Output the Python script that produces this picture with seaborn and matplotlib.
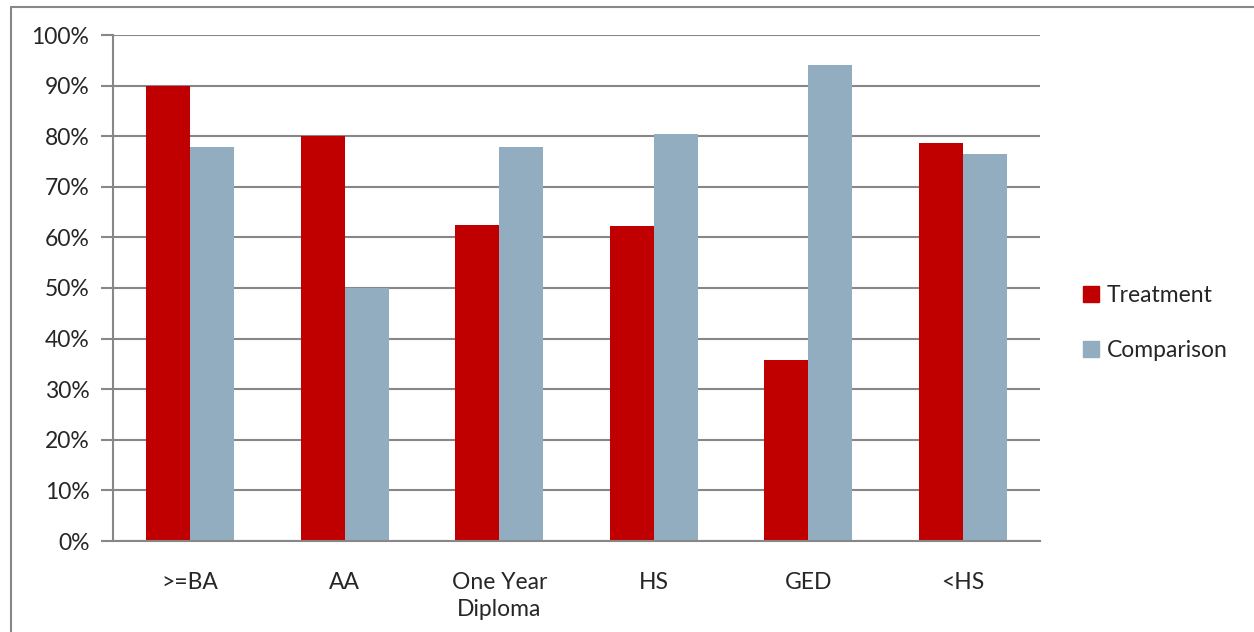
import pandas as pd
import numpy as np
import matplotlib
matplotlib.use("Agg")
import matplotlib.pyplot as plt
import seaborn as sns
from matplotlib.lines import Line2D
from matplotlib.ticker import FixedLocator, PercentFormatter

# ------------------------------------------------------------
# Data
# ------------------------------------------------------------
categories = [">=BA", "AA", "One Year\nDiploma", "HS", "GED", "<HS"]
treatment = [90.0, 80.0, 62.5, 62.2, 35.7, 78.6]
comparison = [77.8, 50.0, 77.8, 80.4, 94.1, 76.4]
series_names = ["Treatment", "Comparison"]
colors = ["#C00000", "#93ADC0"]

df = pd.DataFrame({
    "category": categories * 2,
    "group": [series_names[0]] * len(categories) + [series_names[1]] * len(categories),
    "value": treatment + comparison,
})

# ------------------------------------------------------------
# Figure
# ------------------------------------------------------------
sns.set_style("white")
plt.rcParams["font.family"] = ["Lato", "DejaVu Sans"]

fig = plt.figure(figsize=(12.54, 6.32), dpi=100)
ax = fig.add_axes([113 / 1254, 1 - 541 / 632, 927 / 1254, 506 / 632])

sns.barplot(data=df, x="category", y="value", hue="group", order=categories,
            hue_order=series_names, palette=colors, width=0.57,
            linewidth=0, saturation=1, ax=ax)

grid_c = "#878787"
ax.set_ylim(0, 100)
ax.set_xlim(-0.5, len(categories) - 0.5)
ax.set_yticks(np.arange(0, 101, 10))
ax.yaxis.set_major_formatter(PercentFormatter(decimals=0))
ax.yaxis.grid(True, color=grid_c, linewidth=1.5)
ax.set_axisbelow(True)
ax.set_xlabel("")
ax.set_ylabel("")

for side in ["top", "right"]:
    ax.spines[side].set_visible(False)
for side in ["left", "bottom"]:
    ax.spines[side].set_color(grid_c)
    ax.spines[side].set_linewidth(1.5)

ax.tick_params(axis="x", which="major", length=0, pad=22, labelsize=16.5)
for lbl in ax.get_xticklabels():
    lbl.set_linespacing(1.35)
ax.xaxis.set_minor_locator(FixedLocator(np.arange(-0.5, len(categories), 1)))
ax.tick_params(axis="x", which="minor", length=9, width=1.5, color=grid_c, direction="out")
ax.tick_params(axis="y", length=9, width=1.5, color=grid_c, pad=8, labelsize=16.5, left=True)

ax.get_legend().remove()
handles = [plt.Rectangle((0, 0), 1, 1, color=c) for c in colors]
fig.legend(handles, series_names, loc="center left",
           bbox_to_anchor=(1062 / 1254, 1 - 323 / 632), frameon=False,
           fontsize=16.5, handlelength=0.7, handleheight=0.7,
           handletextpad=0.35, labelspacing=1.45)

# outer chart border (only left and top edges are inside the picture)
fig.add_artist(Line2D([11 / 1254, 11 / 1254], [0, 1 - 7 / 632], color=grid_c,
                      linewidth=1.5, transform=fig.transFigure))
fig.add_artist(Line2D([11 / 1254, 1], [1 - 7 / 632, 1 - 7 / 632], color=grid_c,
                      linewidth=1.5, transform=fig.transFigure))

plt.savefig("out.png", dpi=100)
